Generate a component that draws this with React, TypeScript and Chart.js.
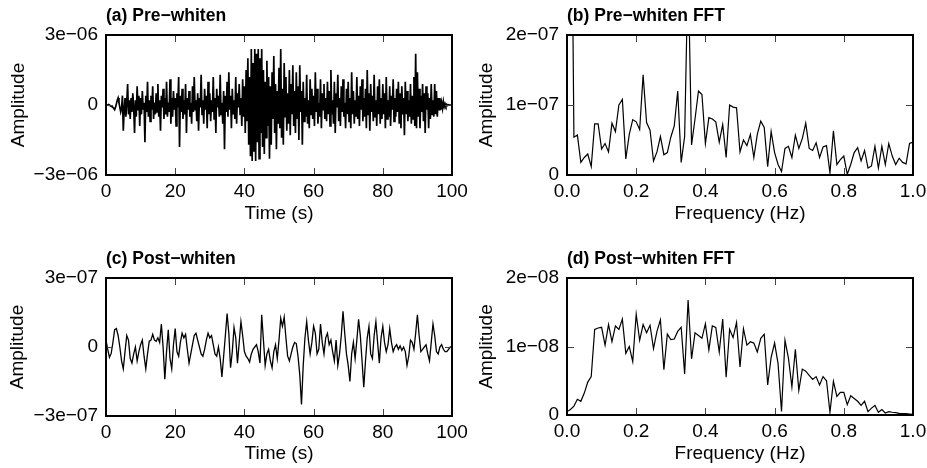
import React, { useEffect, useRef } from "react";
import { Chart, registerables } from "chart.js";

Chart.register(...registerables);

// ---------------- DATA ----------------
// (a) pre-whiten trace, sampled every 0.25 s, values in units of 1e-7
const PRE_WHITEN_DT = 0.25;
const PRE_WHITEN = [
  0, 0, 0, 0.2, 0, -0.3, -0.5, -0.8, -1, -1.5, -2, -1, 0.5, 2, 3, 1, -1, -3, -1.5, 4,
  -11, -2, 3, -5, 1, 9, -4, 2, -6, 3, -3, 5, -1, -12, 2, -5, 8, -2, 4, -9,
  3, -4, 6, -2, 1, -16, 4, -3, 10, -5, 2, -7, 4, -2, 8, -6, 1, -4, 5, -3,
  9, -5, 2, -11, 4, -1, 7, -6, 3, -4, 10, -5, 1, -3, 11, -8, 3, -5, 6, -2,
  3, -9, 5, -1, 12, -18, 4, -3, 7, -6, 2, -4, 9, -12, 3, -2, 6, -5, 1, -8,
  8, -3, 12, -2, 2, -7, 5, -11, 3, -1, 13, -4, 2, -8, 7, -2, 4, -10, 10, -4,
  5, -7, 2, -3, 12, -6, 3, -12, 7, -1, 4, -5, 13, -4, 1, -8, 6, -19, 4, -3,
  10, -5, 14, -2, 4, -10, 7, -4, 2, -6, 12, -8, 5, -1, 9, -4, 3, -9, 11, -5,
  8, -12, 15, -7, 20, -17, 12, -22, 24, -24, 18, -20, 24, -24, 22, -16, 24, -23, 20, -12,
  24, -18, 15, -21, 10, -14, 19, -9, 12, -23, 8, -17, 14, -6, 21, -12, 9, -19, 6, -8,
  16, -10, 24, -14, 7, -17, 18, -5, 12, -11, 5, -8, 15, -13, 9, -4, 17, -9, 6, -12,
  14, -6, 8, -15, 17, -3, 6, -17, 10, -7, 3, -5, 13, -8, 2, -10, 11, -4, 7, -6,
  4, -9, 14, -3, 7, -8, 1, -5, 11, -10, 5, -2, 9, -6, 3, -7, 10, -4, 6, -9,
  15, -4, 2, -8, 10, -12, 5, -1, 13, -7, 3, -9, 8, -3, 11, -5, 1, -10, 7, -4,
  10, -7, 3, -10, 14, -4, 6, -8, 2, -5, 12, -6, 4, -9, 8, -2, 11, -7, 3, -5,
  7, -10, 15, -4, 5, -11, 9, -3, 4, -7, 13, -5, 2, -9, 8, -4, 11, -8, 3, -6,
  9, -4, 5, -10, 12, -6, 2, -5, 8, -9, 4, -2, 11, -7, 3, -5, 7, -3, 10, -8,
  5, -10, 8, -4, 3, -13, 10, -4, 6, -7, 2, -5, 9, -8, 4, -6, 12, -9, 22, -10,
  14, -5, 7, -10, 4, -3, 9, -7, 5, -12, 8, -2, 5, -10, 3, -6, 9, -4, 2, -5,
  9, -4, 6, -5, 3, -2, 3, -2, 1, -1.5, 1.5, -0.8, 0.5, -0.5, 0.3, -0.2, 0.1, 0, 0, 0,
  0,
];

// (b) pre-whiten FFT amplitude, every 0.01 Hz, units of 1e-8
const FREQ_DF = 0.01;
const PRE_FFT = [
  40, 60, 5.4, 5.7, 1.8, 2.5, 3, 1.2, 7.3, 7.3,
  3.7, 4.5, 3.3, 7.4, 6.2, 10, 10.8, 2.3, 5.8, 7.9,
  7.6, 6.5, 14.3, 7.5, 6.4, 2, 3.3, 5.5, 2.9, 3.2,
  5.4, 7, 12, 1.8, 5.5, 30, 4.3, 8, 12, 11.5,
  4.5, 8.2, 8, 7.6, 4.7, 7.2, 2.5, 10, 9.7, 9.6,
  3.3, 5, 4.2, 5.8, 2.5, 5.8, 7.7, 6.8, 1.2, 6.2,
  3.2, 1.5, 0.5, 3.8, 4.1, 2.5, 5.7, 3.8, 5.2, 7.4,
  3.8, 3.5, 4.6, 2.5, 4, 4.2, 0.3, 6.3, 1.5, 2.2,
  2.7, 0.1, 1.5, 3.2, 3.9, 2, 3.5, 1, 1.3, 4.1,
  1, 4.1, 1.5, 4.5, 2.7, 1.5, 2.4, 1.8, 1.6, 4.5,
  4.7,
];

// (c) post-whiten trace, every 0.5 s, units of 1e-8
const POST_WHITEN_DT = 0.5;
const POST_WHITEN = [
  3, -1, -4.5, -2.8, 2, 7.5, 8, 5, 0, -6,
  -9.5, -2, 5, 3, -5, -7, -3, 0, -6, -2,
  1, 3, -4, -9.5, -3, 2.5, 3, 5.5, 3, 2.5,
  4, 2, 10, 0, -14, -2, 7.5, -5, -9.5, 1,
  8, -2, -4, 2, 6, 4, 5.5, -1, -7, -3,
  1, 5, 6, 3, 0, -3, -4, -1, 3, 6,
  4, 5, 1, -3, -4, 0, -5, -13, -4, 5,
  14.5, 6, -9, -2, 8.5, 4, -7, 2, 11, 5,
  -2, -4, -5, -6.5, -3, -1, 0, 1, -2, -7,
  14, 3, -8, -3, -1, -6, -9, -2, 1, -5,
  3, 12.5, 9, 13, 4, -4, -6, -3, 0, 2,
  1.5, -4, -12, -25, -8, 4, 11, 3, -3, 2,
  9, 6, -3, -1, 10, 2, -3, 4, 6, 1,
  3, -2, -6, 3, -8, -3, 5, 15.5, 6, -3,
  -8, -15, -3, 2, -5, 3, 12, 5, -6, -17.5,
  -6, 4, 9, -3, -5, 5, 11, 2, -7, 4,
  9, 2, -2, 1, 8, 2, -2, 0, 1, -1,
  0.5, -1.5, 0, -2, -8, -4, 3, 2, -1, 6,
  14, 5, -2, -1, 0, 1, -3, -6, 2, 10,
  5, -2, -3, 0, 1, -1, -2, -2, -1, 0,
  0,
];

// (d) post-whiten FFT amplitude, every 0.01 Hz, units of 1e-9
const POST_FFT = [
  0.5, 0.8, 1.3, 2.3, 2, 3.2, 4.8, 5.6, 12.5, 12.7,
  12.8, 10.2, 13.2, 10.7, 13, 12.5, 14, 9, 10, 7.8,
  14.7, 10.9, 13.2, 12, 13.1, 9.7, 12.2, 13.9, 6.6, 11.8,
  11, 11.1, 12.2, 12.8, 6, 16.8, 8.2, 12, 11.6, 11.2,
  13.3, 9.5, 13, 12.8, 9.2, 14, 5.5, 12.5, 11.3, 13.5,
  7, 12.6, 10.2, 10.7, 10.5, 9.2, 11.2, 11.8, 4.4, 8.4,
  10.5, 7.5, 0.5, 10.9, 8.3, 4.1, 9.6, 3.6, 6.7, 6.4,
  5.8, 5.2, 5.6, 4.4, 5.6, 5, 0.4, 4.9, 2.7, 3.3,
  3.3, 1.5, 2.8, 2.4, 2, 1.4, 2, 0.5, 1, 1.4,
  0.4, 0.8, 0.3, 0.5, 0.4, 0.35, 0.25, 0.2, 0.2, 0.15,
  0.1,
];

const TIME_TICKS = [0, 20, 40, 60, 80, 100];
const TIME_TICK_LABELS = ["0", "20", "40", "60", "80", "100"];
const FREQ_TICKS = [0, 0.2, 0.4, 0.6, 0.8, 1.0];
const FREQ_TICK_LABELS = ["0.0", "0.2", "0.4", "0.6", "0.8", "1.0"];

const A_Y_TICKS = [-30, 0, 30];
const A_Y_LABELS = ["\u22123e\u221206", "0", "3e\u221206"];
const B_Y_TICKS = [0, 10, 20];
const B_Y_LABELS = ["0", "1e\u221207", "2e\u221207"];
const C_Y_TICKS = [-30, 0, 30];
const C_Y_LABELS = ["\u22123e\u221207", "0", "3e\u221207"];
const D_Y_TICKS = [0, 10, 20];
const D_Y_LABELS = ["0", "1e\u221208", "2e\u221208"];

const TITLES = [
  "(a) Pre\u2212whiten",
  "(b) Pre\u2212whiten FFT",
  "(c) Post\u2212whiten",
  "(d) Post\u2212whiten FFT",
];
const X_TITLES = ["Time (s)", "Frequency (Hz)"];
const Y_TITLE = "Amplitude";

// ---------------- RENDERING ----------------
const FONT_FAMILY = '"Liberation Sans", Arial, Helvetica, sans-serif';
const TICK_LEN = 7;

const framePlugin = {
  id: "frameTicks",
  afterDatasetsDraw(chart: any, _args: any, opts: any) {
    const { ctx, chartArea: a } = chart;
    const xs = chart.scales.x;
    const ys = chart.scales.y;
    ctx.save();
    ctx.strokeStyle = "#444";
    ctx.lineWidth = 1;
    ctx.beginPath();
    for (const v of opts.xTicks) {
      const px = Math.round(xs.getPixelForValue(v)) + 0.5;
      ctx.moveTo(px, a.bottom);
      ctx.lineTo(px, a.bottom - TICK_LEN);
      ctx.moveTo(px, a.top);
      ctx.lineTo(px, a.top + TICK_LEN);
    }
    for (const v of opts.yTicks) {
      const py = Math.round(ys.getPixelForValue(v)) + 0.5;
      ctx.moveTo(a.left, py);
      ctx.lineTo(a.left + TICK_LEN, py);
      ctx.moveTo(a.right, py);
      ctx.lineTo(a.right - TICK_LEN, py);
    }
    ctx.stroke();
    ctx.strokeStyle = "#000";
    ctx.lineWidth = 2;
    ctx.strokeRect(a.left, a.top, a.right - a.left, a.bottom - a.top);
    ctx.fillStyle = "#000";
    ctx.font = "bold 17.5px " + FONT_FAMILY;
    ctx.textAlign = "left";
    ctx.textBaseline = "middle";
    ctx.fillText(opts.title, a.left, a.top - opts.titleGap);
    ctx.restore();
  },
};

type PanelCfg = {
  title: string;
  values: number[];
  step: number;
  xTicks: number[];
  xLabels: string[];
  xTitle: string;
  xMax: number;
  yTicks: number[];
  yLabels: string[];
  yMin: number;
  yMax: number;
  left: number;
  top: number;
  w: number;
  h: number;
  area: { l: number; r: number; t: number; b: number };
  yTitlePad: number;
  xTitlePad: number;
  lineWidth: number;
};

function Panel({ cfg }: { cfg: PanelCfg }) {
  const ref = useRef<HTMLCanvasElement>(null);
  useEffect(() => {
    const font = { family: FONT_FAMILY, size: 19 };
    const data = cfg.values.map((v, i) => ({ x: i * cfg.step, y: v }));
    const chart = new Chart(ref.current as HTMLCanvasElement, {
      type: "line",
      data: {
        datasets: [
          {
            data,
            borderColor: "#000",
            borderWidth: cfg.lineWidth,
            pointRadius: 0,
            tension: 0,
            fill: false,
            clip: 0,
          } as any,
        ],
      },
      plugins: [framePlugin as any],
      options: {
        responsive: false,
        animation: false,
        events: [],
        layout: {
          padding: { left: 0, top: cfg.area.t, right: cfg.w - cfg.area.r, bottom: 0 },
        },
        plugins: {
          legend: { display: false },
          tooltip: { enabled: false },
          title: { display: false },
          frameTicks: {
            xTicks: cfg.xTicks,
            yTicks: cfg.yTicks,
            title: cfg.title,
            titleGap: 18.5,
          },
        } as any,
        scales: {
          x: {
            type: "linear",
            min: 0,
            max: cfg.xMax,
            afterBuildTicks: (s: any) => {
              s.ticks = cfg.xTicks.map((v) => ({ value: v }));
            },
            afterFit: (s: any) => {
              s.height = cfg.h - cfg.area.b;
              s.paddingLeft = 0;
              s.paddingRight = 0;
              s.paddingTop = 0;
              s.paddingBottom = 0;
            },
            grid: { display: false, drawTicks: false },
            border: { display: false },
            ticks: {
              font,
              color: "#000",
              padding: 5,
              maxRotation: 0,
              minRotation: 0,
              autoSkip: false,
              callback: (_v: any, i: number) => cfg.xLabels[i],
            },
            title: {
              display: true,
              text: cfg.xTitle,
              font,
              color: "#000",
              padding: { top: 0, bottom: cfg.xTitlePad },
            },
          },
          y: {
            type: "linear",
            min: cfg.yMin,
            max: cfg.yMax,
            afterBuildTicks: (s: any) => {
              s.ticks = cfg.yTicks.map((v) => ({ value: v }));
            },
            afterFit: (s: any) => {
              s.width = cfg.area.l;
              s.paddingLeft = 0;
              s.paddingRight = 0;
              s.paddingTop = 0;
              s.paddingBottom = 0;
            },
            grid: { display: false, drawTicks: false },
            border: { display: false },
            ticks: {
              font,
              color: "#000",
              padding: 8,
              autoSkip: false,
              callback: (_v: any, i: number) => cfg.yLabels[i],
            },
            title: {
              display: true,
              text: Y_TITLE,
              font,
              color: "#000",
              padding: { top: cfg.yTitlePad, bottom: 0 },
            },
          },
        },
      } as any,
    });
    return () => chart.destroy();
  }, [cfg]);
  return (
    <canvas
      ref={ref}
      width={cfg.w}
      height={cfg.h}
      style={{ position: "absolute", left: cfg.left, top: cfg.top, width: cfg.w, height: cfg.h }}
    />
  );
}

const PANELS: PanelCfg[] = [
  {
    title: TITLES[0], values: PRE_WHITEN, step: PRE_WHITEN_DT,
    xTicks: TIME_TICKS, xLabels: TIME_TICK_LABELS, xTitle: X_TITLES[0], xMax: 100,
    yTicks: A_Y_TICKS, yLabels: A_Y_LABELS, yMin: -30, yMax: 30,
    left: 0, top: 0, w: 480, h: 234, area: { l: 106, r: 452, t: 35, b: 175 },
    yTitlePad: 7, xTitlePad: 9, lineWidth: 1.7,
  },
  {
    title: TITLES[1], values: PRE_FFT, step: FREQ_DF,
    xTicks: FREQ_TICKS, xLabels: FREQ_TICK_LABELS, xTitle: X_TITLES[1], xMax: 1,
    yTicks: B_Y_TICKS, yLabels: B_Y_LABELS, yMin: 0, yMax: 20,
    left: 463, top: 0, w: 464, h: 234, area: { l: 104, r: 450, t: 35, b: 175 },
    yTitlePad: 12, xTitlePad: 9, lineWidth: 1.2,
  },
  {
    title: TITLES[2], values: POST_WHITEN, step: POST_WHITEN_DT,
    xTicks: TIME_TICKS, xLabels: TIME_TICK_LABELS, xTitle: X_TITLES[0], xMax: 100,
    yTicks: C_Y_TICKS, yLabels: C_Y_LABELS, yMin: -30, yMax: 30,
    left: 0, top: 234, w: 480, h: 234, area: { l: 106, r: 452, t: 44, b: 182 },
    yTitlePad: 6, xTitlePad: 3, lineWidth: 1.3,
  },
  {
    title: TITLES[3], values: POST_FFT, step: FREQ_DF,
    xTicks: FREQ_TICKS, xLabels: FREQ_TICK_LABELS, xTitle: X_TITLES[1], xMax: 1,
    yTicks: D_Y_TICKS, yLabels: D_Y_LABELS, yMin: 0, yMax: 20,
    left: 463, top: 234, w: 464, h: 234, area: { l: 104, r: 450, t: 44, b: 181 },
    yTitlePad: 12, xTitlePad: 3, lineWidth: 1.2,
  },
];

export default function App() {
  return (
    <div
      style={{
        position: "absolute",
        left: 0,
        top: 0,
        width: 927,
        height: 468,
        background: "#fff",
        overflow: "hidden",
      }}
    >
      {PANELS.map((p, i) => (
        <Panel key={i} cfg={p} />
      ))}
    </div>
  );
}
